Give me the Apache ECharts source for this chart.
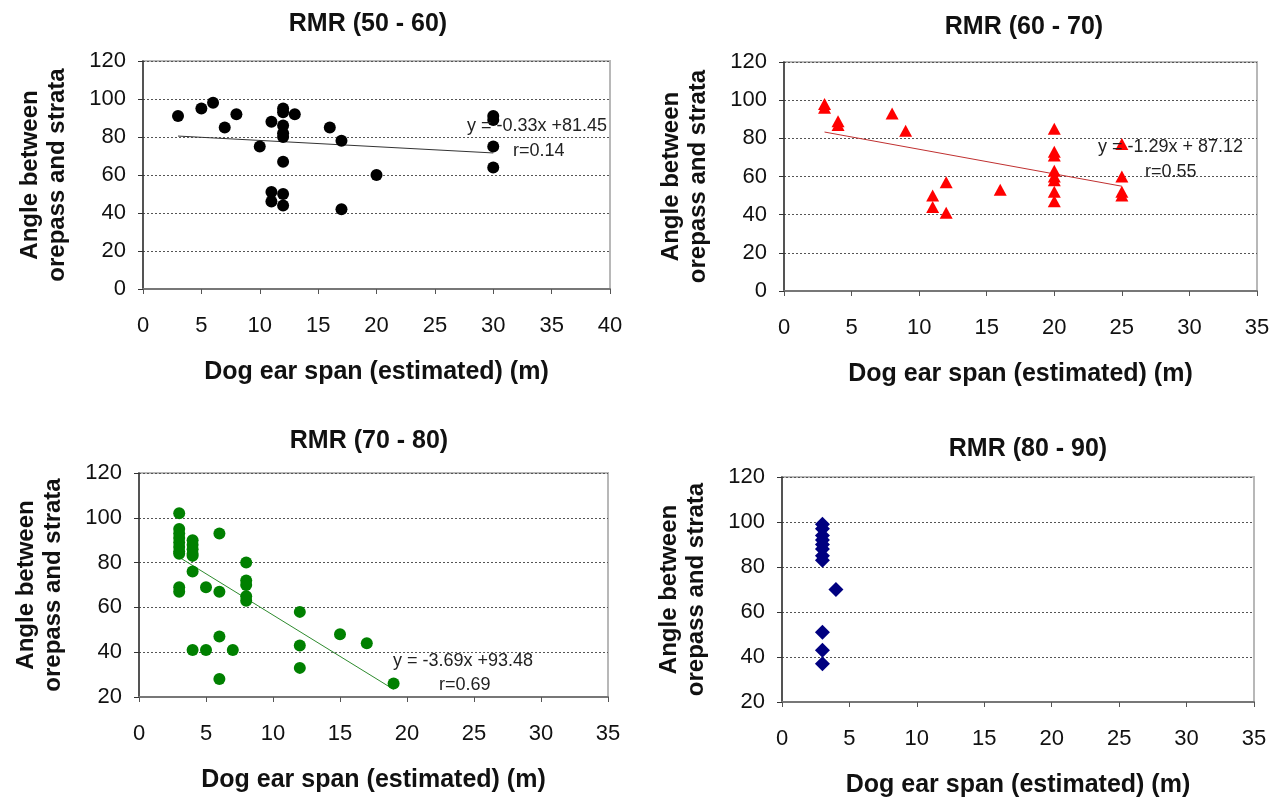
<!DOCTYPE html>
<html lang="en">
<head>
  <meta charset="UTF-8">
  <title>RMR dog ear span</title>
  <style>
    body{
      margin: 0;
    }
    .chart{
      width: 1281px;
      height: 799px;
      background: white;
    }
  </style>
</head>
<body>
<div class="chart"></div>
<script src="https://cdn.jsdelivr.net/npm/echarts@6/dist/echarts.min.js"></script>
<script>
  // points: [dog ear span (m), angle]
  const rmr5060 = [[3,91],[5,95],[6,98],[7,85],[8,92],[10,75],[11,88],[11,51],[11,46],[12,95],[12,93],[12,86],[12,82],[12,80],[12,67],[12,50],[12,44],[13,92],[16,85],[17,78],[17,42],[20,60],[30,91],[30,89],[30,75],[30,64]];
  const rmr6070 = [[3,98],[3,96],[4,89],[4,87],[8,93],[9,84],[11,50],[11,44],[12,57],[12,41],[16,53],[20,85],[20,73],[20,71],[20,63],[20,60],[20,58],[20,52],[20,47],[25,77],[25,60],[25,52],[25,50]];
  const rmr7080 = [[3,102],[3,95],[3,93],[3,91],[3,89],[3,87],[3,85],[3,84],[3,69],[3,67],[4,90],[4,88],[4,86],[4,84],[4,83],[4,76],[4,41],[5,69],[5,41],[6,93],[6,67],[6,47],[6,28],[7,41],[8,80],[8,72],[8,70],[8,65],[8,63],[12,58],[12,43],[12,33],[15,48],[17,44],[19,26]];
  const rmr8090 = [[3,99],[3,97],[3,94],[3,92],[3,90],[3,88],[3,85],[3,83],[4,70],[3,51],[3,43],[3,37]];

  // trend line ends
  const trend5060 = [[3,80.5],[30,71.6]];
  const trend6070 = [[3,83.3],[25,54.9]];
  const trend7080 = [[3,82.4],[19,23.4]];

  const titles = ['RMR (50 - 60)','RMR (60 - 70)','RMR (70 - 80)','RMR (80 - 90)'];
  const equations = ['y = -0.33x +81.45','y = -1.29x + 87.12','y = -3.69x +93.48'];
  const rValues = ['r=0.14','r=0.55','r=0.69'];
  const xMax = [40,35,35,35];
  const yMin = [0,0,20,20];

  const font = "'Liberation Sans', Arial, sans-serif";
  const xName = 'Dog ear span (estimated) (m)';
  const yName = 'Angle between\norepass and strata';

  const grids = [
    {left:143, top:61, width:467, height:228},
    {left:784, top:62, width:473, height:229},
    {left:139, top:473, width:469, height:224},
    {left:782, top:477, width:472, height:225}
  ];
  const titlePos = [[368,25],[1024,28],[369,442],[1028,450]];
  const eqPos = [[467,127,513,152],[1098,148,1145,173],[393,662,439,686]];

  const xAxes = grids.map((g,i)=>({
    gridIndex:i, type:'value', min:0, max:xMax[i], interval:5,
    name:xName, nameLocation:'middle', nameGap:71,
    nameTextStyle:{fontFamily:font, fontSize:25, fontWeight:'bold', color:'#111'},
    axisLine:{lineStyle:{color:'#777', width:2}},
    axisTick:{show:true, length:5, lineStyle:{color:'#555'}},
    axisLabel:{fontFamily:font, fontSize:22, color:'#111', margin:26},
    splitLine:{show:false}
  }));
  const yAxes = grids.map((g,i)=>({
    gridIndex:i, type:'value', min:yMin[i], max:120, interval:20,
    name:yName, nameLocation:'middle', nameGap:72, nameRotate:90,
    nameTextStyle:{fontFamily:font, fontSize:24, fontWeight:'bold', color:'#111', lineHeight:27},
    axisLine:{show:true, lineStyle:{color:'#333', width:1.5}},
    axisTick:{show:true, length:5, lineStyle:{color:'#333'}},
    axisLabel:{fontFamily:font, fontSize:22, color:'#111', margin:17},
    splitLine:{lineStyle:{color:'#555', type:[2,2], width:1}}
  }));

  const series = [
    {type:'scatter', xAxisIndex:0, yAxisIndex:0, symbol:'circle', symbolSize:12,
      itemStyle:{color:'#000', opacity:1}, data:rmr5060},
    {type:'scatter', xAxisIndex:1, yAxisIndex:1, symbol:'triangle', symbolSize:[13,12],
      itemStyle:{color:'#ff0000', opacity:1}, data:rmr6070},
    {type:'scatter', xAxisIndex:2, yAxisIndex:2, symbol:'circle', symbolSize:12,
      itemStyle:{color:'#008000', opacity:1}, data:rmr7080},
    {type:'scatter', xAxisIndex:3, yAxisIndex:3, symbol:'diamond', symbolSize:15,
      itemStyle:{color:'#000080', opacity:1}, data:rmr8090},
    {type:'line', xAxisIndex:0, yAxisIndex:0, symbol:'none', data:trend5060,
      lineStyle:{color:'#333', width:1}, z:1},
    {type:'line', xAxisIndex:1, yAxisIndex:1, symbol:'none', data:trend6070,
      lineStyle:{color:'#c03030', width:1}, z:1},
    {type:'line', xAxisIndex:2, yAxisIndex:2, symbol:'none', data:trend7080,
      lineStyle:{color:'#2e8b2e', width:1}, z:1}
  ];

  const graphic = [];
  equations.forEach((eq,i)=>{
    const p = eqPos[i];
    graphic.push({type:'text', left:p[0], top:p[1]-10, z:10,
      style:{text:eq, font:'18px ' + font, fill:'#222'}});
    graphic.push({type:'text', left:p[2], top:p[3]-10, z:10,
      style:{text:rValues[i], font:'18px ' + font, fill:'#222'}});
  });

  const container = document.querySelector('.chart');
  const instance = echarts.init(container);
  const option = {
    animation:false,
    title: titles.map((t,i)=>({
      text:t, left:titlePos[i][0], top:titlePos[i][1]-13, textAlign:'center', padding:0,
      textStyle:{fontFamily:font, fontSize:25, fontWeight:'bold', color:'#111'}
    })),
    grid: grids.map(g=>Object.assign({show:true, borderColor:'#b8b8b8', borderWidth:2, backgroundColor:'#fff'}, g)),
    xAxis:xAxes,
    yAxis:yAxes,
    series:series,
    graphic:graphic
  };
  instance.setOption(option);
</script>
</body>
</html>
